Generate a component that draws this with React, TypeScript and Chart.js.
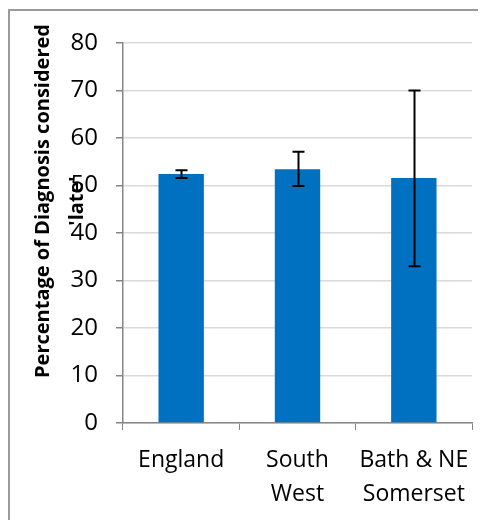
import React, { useEffect, useRef } from "react";
import { Chart, registerables } from "chart.js";

Chart.register(...registerables);

const categories: (string | string[])[] = ["England", ["South", "West"], ["Bath & NE", "Somerset"]];
const values: number[] = [52.4, 53.4, 51.6];
const errorLow: number[] = [51.6, 49.9, 33.0];
const errorHigh: number[] = [53.2, 57.1, 70.0];
const titleLines: string[] = ["Percentage of Diagnosis considered", "'late'"];

const errorBarPlugin = {
  id: "errorBars",
  afterDatasetsDraw(chart: any) {
    const ctx = chart.ctx;
    const meta = chart.getDatasetMeta(0);
    const y = chart.scales.y;
    ctx.save();
    ctx.strokeStyle = "#000";
    ctx.lineWidth = 2;
    meta.data.forEach((bar: any, i: number) => {
      const x = Math.round(bar.x) + 0.5;
      const yl = y.getPixelForValue(errorLow[i]);
      const yh = y.getPixelForValue(errorHigh[i]);
      ctx.beginPath();
      ctx.moveTo(x, yl);
      ctx.lineTo(x, yh);
      ctx.moveTo(x - 6, yl);
      ctx.lineTo(x + 6, yl);
      ctx.moveTo(x - 6, yh);
      ctx.lineTo(x + 6, yh);
      ctx.stroke();
    });
    ctx.restore();
  },
};

const decorPlugin = {
  id: "decor",
  afterDraw(chart: any) {
    const ctx = chart.ctx;
    const area = chart.chartArea;
    ctx.save();
    // outer border
    ctx.fillStyle = "#9a9a9a";
    ctx.fillRect(0, 1, chart.width, 2);
    ctx.fillRect(0, 1, 2, chart.height);
    // y axis title
    ctx.fillStyle = "#000";
    ctx.font = "bold 20px 'Open Sans'";
    ctx.textAlign = "center";
    ctx.textBaseline = "alphabetic";
    const cy = (area.top + area.bottom) / 2 - 32;
    const xs = [41, 75];
    titleLines.forEach((t, i) => {
      ctx.save();
      ctx.translate(xs[i], cy);
      ctx.rotate(-Math.PI / 2);
      ctx.fillText(t, 0, 0);
      ctx.restore();
    });
    ctx.restore();
  },
};

export default function App() {
  const ref = useRef<HTMLCanvasElement | null>(null);
  useEffect(() => {
    if (!ref.current) return;
    const chart = new Chart(ref.current, {
      type: "bar",
      data: {
        labels: categories,
        datasets: [
          {
            data: values,
            backgroundColor: "#0070c0",
            borderWidth: 0,
            barPercentage: 0.39,
            categoryPercentage: 1,
          },
        ],
      },
      options: {
        animation: false,
        responsive: true,
        maintainAspectRatio: false,
        layout: { padding: { left: 0, right: 14, top: 35, bottom: 0 } },
        plugins: { legend: { display: false }, tooltip: { enabled: false } },
        scales: {
          x: {
            afterFit: (s: any) => {
              s.height = 97;
            },
            grid: {
              drawOnChartArea: false,
              drawTicks: true,
              tickLength: 7,
              tickColor: "#868686",
              offset: true,
            },
            border: { color: "#868686", width: 1.5 },
            ticks: {
              color: "#000",
              padding: 14,
              font: { family: "'Open Sans'", size: 23, lineHeight: 1.45 },
              maxRotation: 0,
              autoSkip: false,
            },
          },
          y: {
            min: 0,
            max: 80,
            afterFit: (s: any) => {
              s.width = 115;
            },
            grid: {
              color: "#d9d9d9",
              lineWidth: 1.5,
              tickLength: 7,
              tickColor: "#868686",
            },
            border: { color: "#868686", width: 1.5 },
            ticks: {
              stepSize: 10,
              color: "#000",
              padding: 18,
              font: { family: "'Open Sans'", size: 24 },
            },
          },
        },
      },
      plugins: [errorBarPlugin, decorPlugin],
    });
    return () => chart.destroy();
  }, []);
  return (
    <div style={{ width: 478, height: 512, position: "relative" }}>
      <canvas ref={ref} />
    </div>
  );
}
